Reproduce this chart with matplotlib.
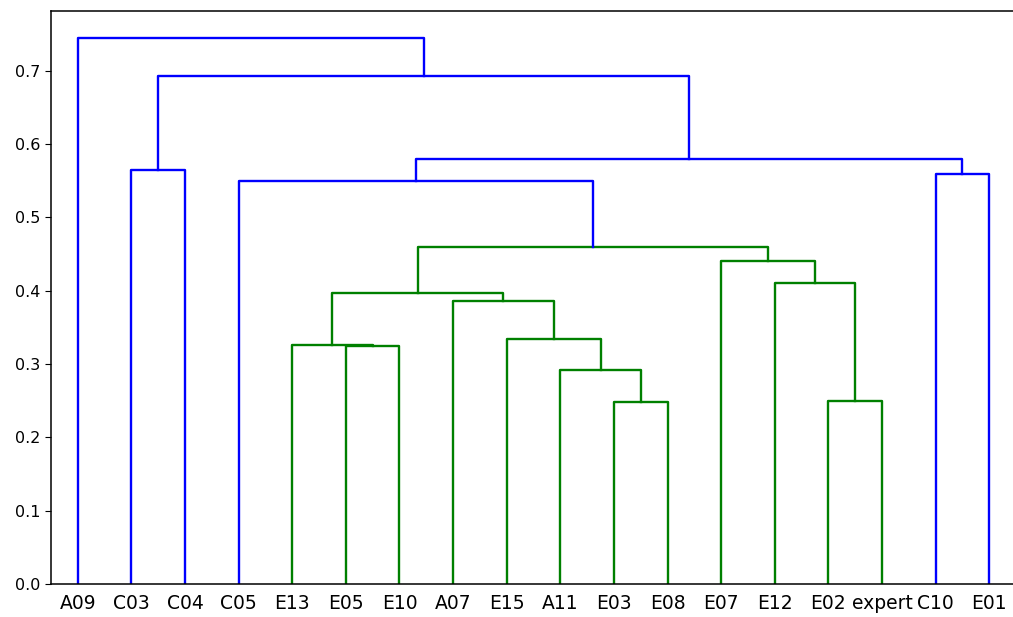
import matplotlib
matplotlib.use("Agg")
import matplotlib.pyplot as plt

# Leaf labels in display order
etiquetas = ["A09", "C03", "C04", "C05", "E13", "E05", "E10", "A07", "E15",
             "A11", "E03", "E08", "E07", "E12", "E02", "expert", "C10", "E01"]

# Merges: node ids (leaves 0..n-1, clusters n..), and merge heights
izquierda = [10, 14, 9, 5, 4, 8, 7, 22, 13, 12, 25, 3, 16, 1, 29, 31, 0]
derecha = [11, 15, 18, 6, 21, 20, 23, 24, 19, 26, 27, 28, 17, 2, 30, 32, 33]
alturas = [0.248, 0.250, 0.292, 0.324, 0.326, 0.334, 0.386, 0.397, 0.410,
           0.440, 0.460, 0.549, 0.559, 0.565, 0.580, 0.692, 0.744]


def dibujar_dendrograma(ax, etiquetas, izquierda, derecha, alturas):
    """ Draws the dendrogram links in the same style as scipy """
    n = len(etiquetas)
    umbral = 0.7 * max(alturas)
    pos = {i: 10 * i + 5 for i in range(n)}
    alt = {i: 0.0 for i in range(n)}
    for k, (a, b, h) in enumerate(zip(izquierda, derecha, alturas)):
        xa, xb = pos[a], pos[b]
        color = "g" if h < umbral else "b"
        ax.plot([xa, xa, xb, xb], [alt[a], h, h, alt[b]], color=color, linewidth=1.7)
        pos[n + k] = (xa + xb) / 2
        alt[n + k] = h
    ax.set_xlim(0, 10 * n)
    ax.set_ylim(0, max(alturas) * 1.05)
    ax.set_xticks([10 * i + 5 for i in range(n)])
    ax.set_xticklabels(etiquetas, fontsize=13.5)
    for linea in ax.get_xticklines():
        linea.set_visible(False)


fig = plt.figure(figsize=(10.13, 6.17), dpi=100)
ax = fig.add_axes([51 / 1013, 1 - 584 / 617, (1016 - 51) / 1013, (584 - 11) / 617])
dibujar_dendrograma(ax, etiquetas, izquierda, derecha, alturas)
ax.set_yticks([0.0, 0.1, 0.2, 0.3, 0.4, 0.5, 0.6, 0.7])
ax.tick_params(axis="y", labelsize=11.5, length=4)
ax.tick_params(axis="x", pad=4)
for lado in ax.spines.values():
    lado.set_linewidth(1.1)
fig.savefig("out.png", dpi=100)
